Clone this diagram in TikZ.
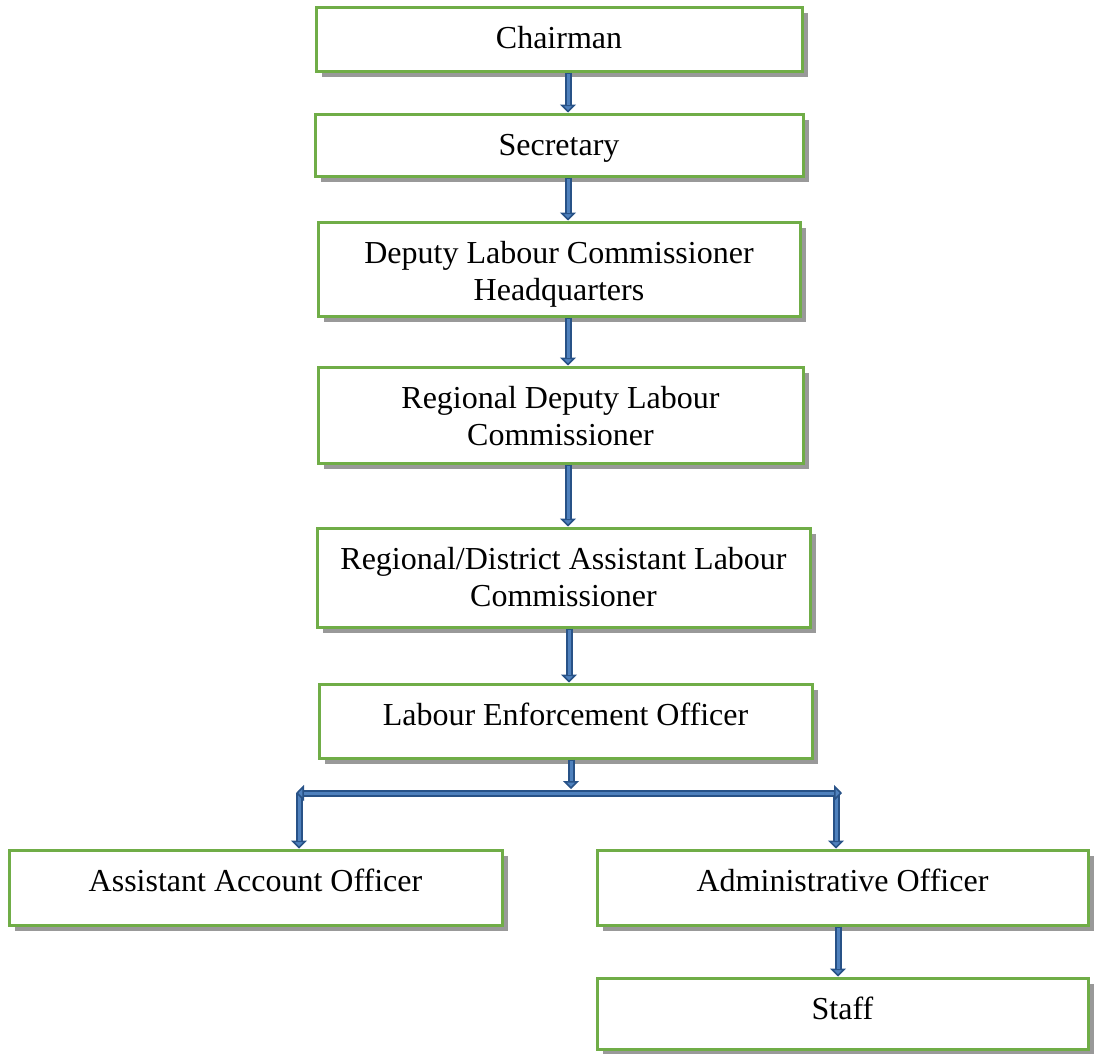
\documentclass[tikz,border=0pt]{standalone}
\usepackage{fontspec}
\setmainfont{Liberation Serif}
\usetikzlibrary{arrows.meta,shadows}
\definecolor{boxgreen}{RGB}{112,173,71}
\definecolor{shadowgray}{RGB}{153,153,153}
\definecolor{arrowdark}{RGB}{40,82,135}
\definecolor{arrowlight}{RGB}{79,129,189}
\tikzset{
  orgbox/.style={draw=boxgreen, line width=3pt, fill=white, rectangle, inner sep=0pt,
    general shadow={fill=shadowgray, shadow xshift=6pt, shadow yshift=-6pt}},
  boxtext/.style={anchor=north, inner sep=0pt, align=center,
    font=\fontsize{32}{37}\selectfont, yshift=-17pt},
  flow/.style={draw=arrowdark, line width=7pt, -{Triangle[width=16pt,length=8pt,line width=1.6pt,fill=arrowlight]},
    postaction={draw=arrowlight, line width=3pt, arrows=-, shorten >=8pt, shorten <=1.5pt}},
  flowboth/.style={draw=arrowdark, line width=7pt,
    {Triangle[width=16pt,length=8pt,line width=1.6pt,fill=arrowlight]}-{Triangle[width=16pt,length=8pt,line width=1.6pt,fill=arrowlight]},
    postaction={draw=arrowlight, line width=3pt, arrows=-, shorten >=8pt, shorten <=8pt}},
}
\begin{document}
\begin{tikzpicture}[x=1pt,y=-1pt]
\useasboundingbox (0,0) rectangle (1095,1053);

% boxes
\node[orgbox, minimum width=486pt, minimum height=64pt] (chair) at (559,39) {};
\node[boxtext] (chairT) at (chair.north) {\strut Chairman};

\node[orgbox, minimum width=488pt, minimum height=62pt] (sec) at (559,145) {};
\node[boxtext] (secT) at (sec.north) {\strut Secretary};

\node[orgbox, minimum width=482pt, minimum height=94pt] (dep) at (559,269) {};
\node[boxtext] (depT) at (dep.north) {\strut Deputy Labour Commissioner\\Headquarters};

\node[orgbox, minimum width=485pt, minimum height=96pt] (rdep) at (560.5,415) {};
\node[boxtext] (rdepT) at (rdep.north) {\strut Regional Deputy Labour\\Commissioner};

\node[orgbox, minimum width=493pt, minimum height=99pt] (rdist) at (563.5,577.5) {};
\node[boxtext] (rdistT) at (rdist.north) {\strut Regional/District Assistant Labour\\Commissioner};

\node[orgbox, minimum width=493pt, minimum height=74pt] (leo) at (565.5,721) {};
\node[boxtext] (leoT) at (leo.north) {\strut Labour Enforcement Officer};

\node[orgbox, minimum width=493pt, minimum height=75pt] (aao) at (255.5,887.5) {};
\node[boxtext] (aaoT) at (aao.north) {\strut Assistant Account Officer};

\node[orgbox, minimum width=491pt, minimum height=75pt] (ao) at (842.5,887.5) {};
\node[boxtext] (aoT) at (ao.north) {\strut Administrative Officer};

\node[orgbox, minimum width=491pt, minimum height=71pt] (staff) at (842.5,1013.5) {};
\node[boxtext] (staffT) at (staff.north) {\strut Staff};

% helper coordinates
\coordinate (sp1) at (568,0);
\coordinate (sp2) at (569,0);
\coordinate (barM) at (571,789);
\coordinate (barL) at (296,793);
\coordinate (barR) at (842,793);
\coordinate (dropL) at (299,793);
\coordinate (dropR) at (836,793);
\coordinate (sx) at (838,0);

% connectors
\draw[flow] (chair.south -| sp1) -- (sec.north -| sp1);
\draw[flow] (sec.south -| sp1) -- (dep.north -| sp1);
\draw[flow] (dep.south -| sp1) -- (rdep.north -| sp1);
\draw[flow] (rdep.south -| sp1) -- (rdist.north -| sp1);
\draw[flow] (rdist.south -| sp2) -- (leo.north -| sp2);
\draw[flow] (leo.south -| barM) -- (barM);
\draw[flow] (dropL) -- (dropL |- aao.north);
\draw[flow] (dropR) -- (dropR |- ao.north);
\draw[flowboth] (barL) -- (barR);
\draw[flow] (ao.south -| sx) -- (staff.north -| sx);
\end{tikzpicture}
\end{document}
